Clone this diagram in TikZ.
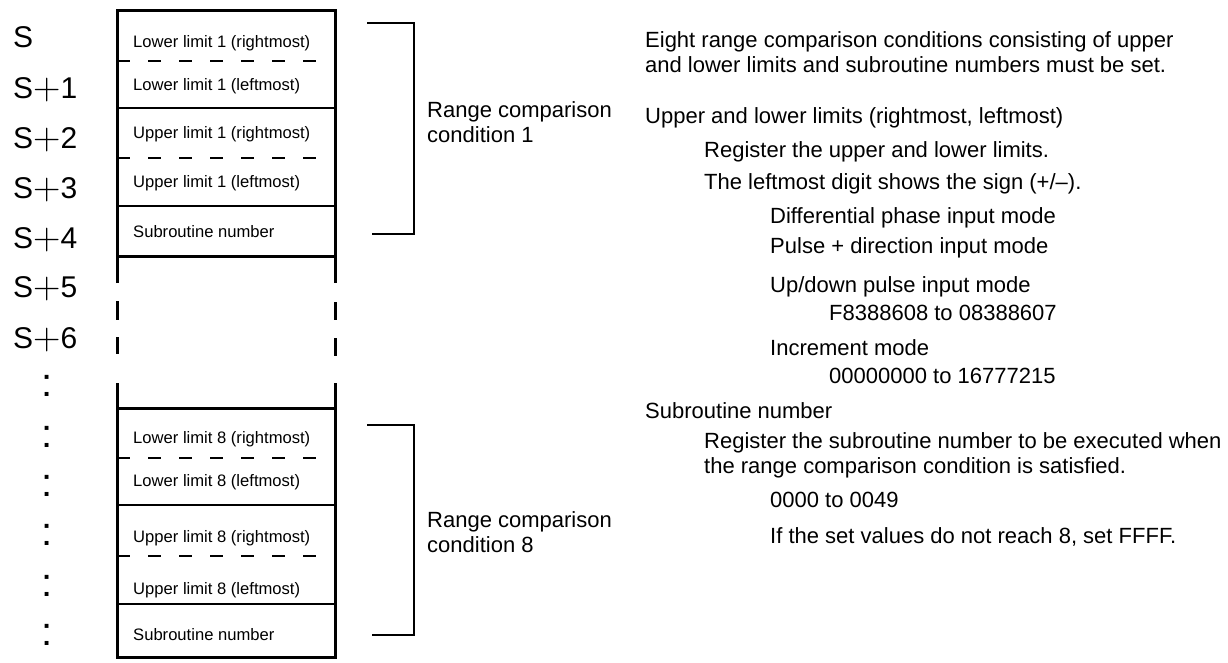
\documentclass[tikz,border=0pt]{standalone}
\usepackage{fontspec}
\setmainfont{Liberation Sans}
\newfontfamily\plusfont{Latin Modern Roman}
\usetikzlibrary{positioning}

\newcommand{\addrplus}[1]{S{\fontsize{38}{38}\plusfont\raisebox{-1pt}{+}}#1}

\begin{document}
\begin{tikzpicture}[x=1pt, y=-1pt,
  addr/.style = {anchor=base west, inner sep=0pt, font=\fontsize{30}{30}\selectfont},
  more/.style = {anchor=base, inner sep=0pt, font=\fontsize{40}{40}\selectfont},
  cell/.style = {anchor=base west, inner sep=0pt, font=\fontsize{16.6}{19}\selectfont},
  cond/.style = {anchor=base west, inner sep=0pt, align=left, font=\fontsize{22}{25}\selectfont},
  note/.style = {anchor=base west, inner sep=0pt, align=left, font=\fontsize{22}{24.5}\selectfont},
  frame/.style = {line width=3pt},
  sep/.style = {line width=1.3pt},
  halfsep/.style = {line width=1.3pt, dash pattern=on 13pt off 18pt},
  brace/.style = {line width=1.4pt},
]
\useasboundingbox (0,0) rectangle (1228,662);

% addresses
\node[addr] (s0) at (13,47) {S};
\node[addr] (s1) at (13,98) {\addrplus{1}};
\node[addr] (s2) at (13,148) {\addrplus{2}};
\node[addr] (s3) at (13,198) {\addrplus{3}};
\node[addr] (s4) at (13,248) {\addrplus{4}};
\node[addr] (s5) at (13,297) {\addrplus{5}};
\node[addr] (s6) at (13,348) {\addrplus{6}};
\node[more] (m1) at (47,396) {:};
\node[more] (m2) at (47,447) {:};
\node[more] (m3) at (47,496) {:};
\node[more] (m4) at (47,545) {:};
\node[more] (m5) at (47,596) {:};
\node[more] (m6) at (47,645) {:};

% memory area, condition 1
\draw[frame] (117,283) -- (117,10) -- (335,10) -- (335,283);
\draw[frame] (117,256) -- (335,256);
\draw[halfsep] (117,61) -- (335,61);
\draw[sep] (117,108) -- (335,108);
\draw[halfsep] (117,158) -- (335,158);
\draw[sep] (117,206) -- (335,206);
\node[cell] (lo1r) at (133,47) {Lower limit 1 (rightmost)};
\node[cell] (lo1l) at (133,90) {Lower limit 1 (leftmost)};
\node[cell] (up1r) at (133,138) {Upper limit 1 (rightmost)};
\node[cell] (up1l) at (133,187) {Upper limit 1 (leftmost)};
\node[cell] (sub1) at (133,237) {Subroutine number};

% broken sides
\draw[frame] (117,301) -- (117,320);
\draw[frame] (117,337) -- (117,354);
\draw[frame] (335,302) -- (335,320);
\draw[frame] (335,338) -- (335,356);

% memory area, condition 8
\draw[frame] (117,383) -- (117,657) -- (335,657) -- (335,383);
\draw[frame] (117,408) -- (335,408);
\draw[halfsep] (117,458) -- (335,458);
\draw[sep] (117,505) -- (335,505);
\draw[halfsep] (117,556) -- (335,556);
\draw[sep] (117,604) -- (335,604);
\node[cell] (lo8r) at (133,443) {Lower limit 8 (rightmost)};
\node[cell] (lo8l) at (133,486) {Lower limit 8 (leftmost)};
\node[cell] (up8r) at (133,542) {Upper limit 8 (rightmost)};
\node[cell] (up8l) at (133,594) {Upper limit 8 (leftmost)};
\node[cell] (sub8) at (133,640) {Subroutine number};

% brackets
\coordinate (b1a) at (367,23);
\coordinate (b1b) at (414,23);
\coordinate (b1c) at (414,234);
\coordinate (b1d) at (372,234);
\draw[brace] (b1a) -- (b1b) -- (b1c) -- (b1d);
\node[cond] (rc1) at (427,142) {Range comparison\\condition 1};
\coordinate (b8a) at (367,425);
\coordinate (b8b) at (414,425);
\coordinate (b8c) at (414,635);
\coordinate (b8d) at (372,635);
\draw[brace] (b8a) -- (b8b) -- (b8c) -- (b8d);
\node[cond] (rc8) at (427,552) {Range comparison\\condition 8};

% notes
\node[note] (intro) at (645,72) {Eight range comparison conditions consisting of upper\\and lower limits and subroutine numbers must be set.};
\node[note] (lim) at (645,123) {Upper and lower limits (rightmost, leftmost)};
\node[note] (limreg) at (704,157) {Register the upper and lower limits.};
\node[note] (limsign) at (704,189) {The leftmost digit shows the sign (+/–).};
\node[note] (mdiff) at (770,223) {Differential phase input mode};
\node[note] (mpuls) at (770,253) {Pulse + direction input mode};
\node[note] (mupdn) at (770,292) {Up/down pulse input mode};
\node[note] (rsign) at (829,320) {F8388608 to 08388607};
\node[note] (minc) at (770,355) {Increment mode};
\node[note] (rinc) at (829,383) {00000000 to 16777215};
\node[note] (subt) at (645,418) {Subroutine number};
\node[note] (subreg) at (704,473) {Register the subroutine number to be executed when\\the range comparison condition is satisfied.};
\node[note] (subrng) at (770,507) {0000 to 0049};
\node[note] (subnone) at (770,543) {If the set values do not reach 8, set FFFF.};
\end{tikzpicture}
\end{document}
